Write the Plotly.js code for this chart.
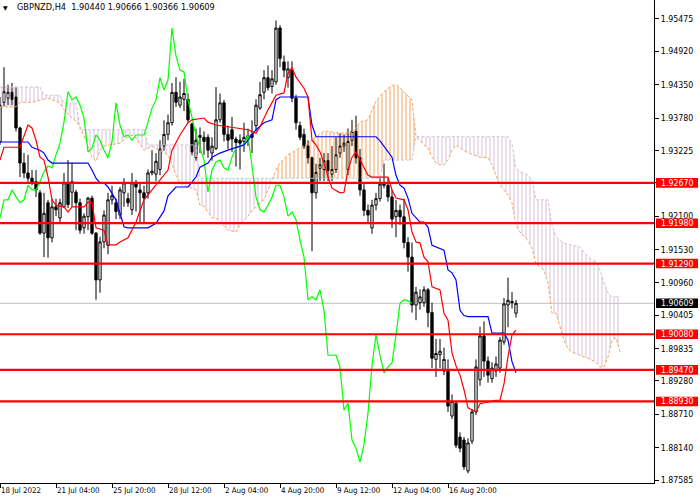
<!DOCTYPE html>
<html>
<head>
<meta charset="utf-8">
<script src="https://cdn.plot.ly/plotly-3.0.1.min.js"></script>
<style>html,body{margin:0;padding:0;background:#fff}#chart{width:700px;height:500px}</style>
</head>
<body>
<div id="chart"></div>
<script>
// ---------- DATA ----------
const symbol = "GBPNZD,H4";
const openP = [
1.9337,1.9405,1.9412,1.9422,1.9414,1.9361,1.9301,1.9284,1.9275,1.9269,
1.9250,1.9181,1.9233,1.9173,1.9226,1.9207,1.9226,1.9267,1.9251,1.9251,
1.9233,1.9190,1.9209,1.9241,1.9181,1.9101,1.9166,1.9160,1.9238,1.9233,
1.9212,1.9250,1.9240,1.9221,1.9267,1.9255,1.9250,1.9250,1.9284,1.9282,
1.9290,1.9330,1.9350,1.9370,1.9422,1.9400,1.9410,1.9410,1.9368,1.9310,
1.9345,1.9345,1.9345,1.9318,1.9326,1.9375,1.9404,1.9350,1.9358,1.9342,
1.9340,1.9338,1.9345,1.9350,1.9365,1.9395,1.9422,1.9447,1.9432,1.9440,
1.9532,1.9474,1.9447,1.9460,1.9412,1.9365,1.9350,1.9330,1.9310,1.9250,
1.9292,1.9290,1.9305,1.9282,1.9290,1.9318,1.9330,1.9290,1.9340,1.9355,
1.9310,1.9255,1.9220,1.9190,1.9229,1.9240,1.9265,1.9263,1.9243,1.9209,
1.9220,1.9209,1.9165,1.9140,1.9058,1.9062,1.9062,1.9084,1.9045,1.8965,
1.8973,1.8945,1.8947,1.8868,1.8890,1.8832,1.8827,1.8774,1.8825,1.8875,
1.8930,1.9005,1.8962,1.8932,1.8945,1.8950,1.8995,1.9058,1.9064,1.90440];
const highP = [
1.9414,1.9465,1.9435,1.9438,1.9431,1.9363,1.9318,1.9315,1.9289,1.9289,
1.9255,1.9250,1.9238,1.9240,1.9240,1.9240,1.9284,1.9306,1.9301,1.9255,
1.9240,1.9215,1.9243,1.9245,1.9183,1.9175,1.9220,1.9250,1.9262,1.9240,
1.9260,1.9275,1.9250,1.9284,1.9272,1.9267,1.9262,1.9290,1.9323,1.9318,
1.9340,1.9374,1.9384,1.9438,1.9448,1.9440,1.9445,1.9420,1.9370,1.9360,
1.9362,1.9355,1.9350,1.9345,1.9431,1.9420,1.9409,1.9365,1.9380,1.9346,
1.9350,1.9370,1.9360,1.9374,1.9410,1.9440,1.9460,1.9468,1.9460,1.9545,
1.9537,1.9485,1.9475,1.9475,1.9418,1.9372,1.9360,1.9340,1.9312,1.9300,
1.9310,1.9318,1.9318,1.9330,1.9345,1.9352,1.9350,1.9360,1.9375,1.9382,
1.9325,1.9265,1.9230,1.9238,1.9250,1.9275,1.9300,1.9275,1.9255,1.9238,
1.9230,1.9240,1.9174,1.9165,1.9089,1.9085,1.9090,1.9087,1.9062,1.9000,
1.9000,1.8985,1.8965,1.8905,1.8892,1.8840,1.8832,1.8830,1.8880,1.8965,
1.9021,1.9030,1.8970,1.8960,1.8970,1.9003,1.9070,1.9105,1.9080,1.90666];
const lowP = [
1.9332,1.9398,1.9400,1.9400,1.9355,1.9277,1.9275,1.9269,1.9263,1.9243,
1.9178,1.9140,1.9139,1.9165,1.9210,1.9200,1.9224,1.9224,1.9226,1.9186,
1.9180,1.9180,1.9186,1.9178,1.9067,1.9079,1.9155,1.9145,1.9230,1.9205,
1.9205,1.9226,1.9226,1.9212,1.9218,1.9198,1.9198,1.9240,1.9280,1.9270,
1.9280,1.9322,1.9340,1.9365,1.9397,1.9395,1.9390,1.9370,1.9314,1.9305,
1.9318,1.9315,1.9310,1.9305,1.9323,1.9370,1.9338,1.9325,1.9320,1.9295,
1.9290,1.9320,1.9330,1.9318,1.9355,1.9392,1.9410,1.9425,1.9420,1.9435,
1.9465,1.9448,1.9430,1.9405,1.9358,1.9340,1.9325,1.9300,1.9150,1.9240,
1.9270,1.9270,1.9270,1.9270,1.9284,1.9310,1.9320,1.9280,1.9330,1.9300,
1.9245,1.9210,1.9200,1.9180,1.9220,1.9235,1.9258,1.9235,1.9190,1.9174,
1.9195,1.9155,1.9115,1.9045,1.9032,1.9050,1.9055,1.9020,1.8950,1.8935,
1.8950,1.8938,1.8875,1.8863,1.8813,1.8806,1.8776,1.8770,1.8820,1.8870,
1.8920,1.8935,1.8925,1.8925,1.8935,1.8942,1.8990,1.9020,1.9052,1.90366];
const closeP = [
1.9400,1.9423,1.9422,1.9410,1.9361,1.9301,1.9284,1.9275,1.9269,1.9255,
1.9181,1.9215,1.9173,1.9226,1.9221,1.9233,1.9267,1.9230,1.9269,1.9233,
1.9186,1.9210,1.9241,1.9181,1.9101,1.9166,1.9212,1.9238,1.9245,1.9218,
1.9255,1.9267,1.9233,1.9267,1.9260,1.9250,1.9241,1.9284,1.9287,1.9304,
1.9325,1.9350,1.9370,1.9422,1.9405,1.9414,1.9420,1.9375,1.9320,1.9340,
1.9348,1.9338,1.9323,1.9330,1.9375,1.9404,1.9350,1.9340,1.9342,1.9336,
1.9335,1.9345,1.9348,1.9345,1.9400,1.9418,1.9447,1.9430,1.9445,1.9532,
1.9480,1.9460,1.9462,1.9412,1.9370,1.9345,1.9330,1.9310,1.9250,1.9285,
1.9298,1.9305,1.9288,1.9290,1.9315,1.9330,1.9335,1.9338,1.9355,1.9310,
1.9255,1.9220,1.9212,1.9229,1.9240,1.9265,1.9263,1.9243,1.9205,1.9220,
1.9209,1.9165,1.9140,1.9058,1.9080,1.9072,1.9084,1.9045,1.8967,1.8975,
1.8979,1.8965,1.8885,1.8893,1.8818,1.8813,1.8781,1.8822,1.8875,1.8952,
1.9005,1.8962,1.8938,1.8950,1.8957,1.8998,1.9060,1.9066,1.9062,1.90609];

// Ichimoku lines, read at the bars where they turn (bar number, price)
const tenkanBar = [0,1,5,7,8,9,10,11,12,13,14,16,17,18,21,22,23,24,26,27,29,30,32,33,34,36,38,40,42,43,45,47,48,51,52,54,57,61,62,64,65,67,69,71,72,73,74,76,77,78,79,80,81,82,83,85,86,87,88,89,90,91,92,93,97,98,99,101,102,103,104,105,106,107,108,110,111,112,113,114,115,116,117,119,120,124,125,126,127,128,129];
const tenkanVal = [1.9306,1.9328,1.9328,1.9366,1.9361,1.9340,1.9311,1.9306,1.9277,1.9238,1.9229,1.9226,1.9217,1.9226,1.9226,1.9234,1.9233,1.9190,1.9186,1.9161,1.9161,1.9166,1.9173,1.9186,1.9200,1.9238,1.9255,1.9272,1.9289,1.9323,1.9349,1.9370,1.9375,1.9378,1.9371,1.9366,1.9363,1.9359,1.9358,1.9352,1.9363,1.9392,1.9417,1.9421,1.9455,1.9464,1.9448,1.9429,1.9414,1.9340,1.9332,1.9320,1.9301,1.9277,1.9258,1.9250,1.9251,1.9289,1.9311,1.9320,1.9306,1.9294,1.9280,1.9277,1.9277,1.9255,1.9241,1.9238,1.9221,1.9183,1.9166,1.9164,1.9140,1.9132,1.9089,1.9084,1.9044,1.9032,1.8976,1.8954,1.8938,1.8913,1.8882,1.8875,1.8889,1.8895,1.8895,1.8923,1.8970,1.9007,1.9015];
const kijunBar = [0,7,8,9,10,11,12,13,22,23,24,25,26,27,28,29,30,31,32,37,39,41,42,44,47,49,50,52,53,55,57,59,61,62,63,64,66,68,69,70,77,78,79,94,95,96,97,98,99,100,101,102,103,105,106,107,108,111,112,113,114,115,116,117,122,123,126,127,128,129];
const kijunVal = [1.9337,1.9337,1.9328,1.9325,1.9323,1.9318,1.9306,1.9301,1.9301,1.9289,1.9275,1.9267,1.9267,1.9260,1.9250,1.9238,1.9215,1.9192,1.9190,1.9190,1.9198,1.9219,1.9245,1.9260,1.9260,1.9277,1.9294,1.9301,1.9311,1.9318,1.9323,1.9328,1.9332,1.9340,1.9349,1.9358,1.9370,1.9375,1.9409,1.9414,1.9414,1.9366,1.9346,1.9346,1.9339,1.9330,1.9322,1.9311,1.9280,1.9263,1.9258,1.9241,1.9215,1.9200,1.9200,1.9191,1.9160,1.9152,1.9118,1.9113,1.9101,1.9049,1.9040,1.9038,1.9038,1.9010,1.9010,1.8998,1.8961,1.8942];
const chikouVal = [
1.9207,1.9238,1.9238,1.9255,1.9243,1.9233,1.9238,1.9263,1.9255,1.9255,
1.9269,1.9286,1.9296,1.9293,1.9315,1.9335,1.9371,1.9423,1.9409,1.9414,
1.9400,1.9378,1.9320,1.9327,1.9349,1.9340,1.9323,1.9310,1.9337,1.9404,
1.9366,1.9346,1.9349,1.9340,1.9349,1.9349,1.9349,1.9371,1.9395,1.9409,
1.9447,1.9426,1.9443,1.9532,1.9484,1.9460,1.9457,1.9409,1.9380,1.9349,
1.9327,1.9306,1.9251,1.9289,1.9303,1.9306,1.9293,1.9289,1.9311,1.9327,
1.9330,1.9332,1.9349,1.9298,1.9243,1.9221,1.9217,1.9229,1.9243,1.9263,
1.9263,1.9243,1.9210,1.9217,1.9204,1.9169,1.9140,1.9067,1.9072,1.9067,
1.9084,1.9049,1.8972,1.8972,1.8972,1.8952,1.8878,1.8890,1.8827,1.8813,
1.8789,1.8819,1.8873,1.8955,1.9007,1.8972,1.8942,1.8952,1.8959,1.9007,
1.9061,1.9067,1.9065,1.9061];
const spanABar = [0,4,5,8,12,14,15,16,17,18,19,20,21,22,23,24,25,26,28,30,32,33,34,35,36,38,40,42,43,44,45,46,48,49,50,51,52,53,54,56,57,59,60,62,63,65,66,67,68,69,70,72,75,77,79,81,83,85,88,89,90,92,93,94,96,97,98,99,100,101,102,103,104,105,106,107,108,109,110,111,112,113,114,115,116,118,120,122,123,124,125,126,127,128,129,130,131,132,133,134,135,136,137,138,139,140,141,142,143,145,147,149,150,151,152,153,154,155];
const spanAVal = [1.9397,1.9397,1.9405,1.9405,1.9412,1.9407,1.9404,1.9392,1.9385,1.9378,1.9373,1.9363,1.9347,1.9330,1.9311,1.9304,1.9323,1.9330,1.9332,1.9335,1.9346,1.9349,1.9344,1.9334,1.9323,1.9330,1.9323,1.9315,1.9298,1.9280,1.9267,1.9262,1.9258,1.9255,1.9229,1.9227,1.9217,1.9207,1.9207,1.9193,1.9186,1.9183,1.9195,1.9210,1.9219,1.9233,1.9238,1.9255,1.9272,1.9289,1.9301,1.9315,1.9327,1.9335,1.9346,1.9356,1.9354,1.9352,1.9354,1.9361,1.9371,1.9375,1.9392,1.9407,1.9423,1.9429,1.9433,1.9436,1.9429,1.9423,1.9416,1.9409,1.9347,1.9339,1.9332,1.9327,1.9311,1.9301,1.9298,1.9298,1.9306,1.9323,1.9332,1.9327,1.9322,1.9316,1.9311,1.9310,1.9298,1.9280,1.9263,1.9255,1.9246,1.9233,1.9195,1.9183,1.9176,1.9168,1.9156,1.9128,1.9123,1.9118,1.9096,1.9044,1.9044,1.9020,1.8998,1.8983,1.8978,1.8972,1.8967,1.8960,1.8952,1.8952,1.8969,1.8998,1.9002,1.8978];
const spanBBar = [0,10,11,15,16,19,20,36,37,49,50,69,95,96,103,104,127,128,129,130,132,133,134,137,138,139,141,145,146,147,149,150,151,152,153,155];
const spanBVal = [1.9431,1.9431,1.9417,1.9417,1.9404,1.9404,1.9358,1.9358,1.9332,1.9332,1.9275,1.9275,1.9275,1.9306,1.9306,1.9346,1.9346,1.9334,1.9292,1.9286,1.9280,1.9272,1.9238,1.9238,1.9195,1.9175,1.9164,1.9157,1.9149,1.9140,1.9132,1.9118,1.9096,1.9079,1.9072,1.9072];
// cloud sections: bars where the cloud changes colour
const cloudFrom = [0, 69, 104];
const cloudTo = [69, 104, 155];
const cloudBull = [false, true, false];

const levels = [1.92670, 1.91980, 1.91290, 1.90080, 1.89470, 1.88930];
const priceTicks = [1.95475,1.94920,1.94350,1.93780,1.93225,1.92670,1.92100,1.91530,1.90960,1.90405,1.89835,1.89280,1.88710,1.88140,1.87585];
const timeTickBars = [0,14,28,42,56,70,84,98,112];
const timeTickText = ["18 Jul 2022","21 Jul 04:00","25 Jul 20:00","28 Jul 12:00","2 Aug 04:00","4 Aug 20:00","9 Aug 12:00","12 Aug 04:00","16 Aug 20:00"];

// ---------- STYLE ----------
const ctx = document.createElement('canvas').getContext('2d');
function textW(font, t) { ctx.font = font; return ctx.measureText(t).width; }
function hasFont(name) {
  const t = '1.95475 Jul Aug GBPNZD';
  return Math.abs(textW('20px "' + name + '", monospace', t) - textW('20px monospace', t)) > 0.5;
}
const family = ['Liberation Sans Narrow', 'Arial Narrow', 'DejaVu Sans Condensed', 'Liberation Sans'].find(hasFont) || 'Liberation Sans';
const FONT = '"' + family + '","Liberation Sans",Arial,sans-serif';
function fitSize(t, target, maxSize) { return Math.min(maxSize, 20 * target / textW('20px ' + FONT, t)); }
const ySize = fitSize('1.95475', 32.5, 11);
const xSize = fitSize('21 Jul 04:00', 42.5, 10.5);

const W = 700, H = 500, ML = 0, MR = 46, MT = 0, MB = 17;
const plotW = W - ML - MR, plotH = H - MT - MB;
const yRange = [1.87534, 1.95800];
const xRange = [0, 163.5];
const pxPrice = (yRange[1] - yRange[0]) / plotH;

const bars = openP.map((_, i) => i);
const last = bars.length - 1;
const titleText = symbol + '\u00a0\u00a0' + [openP[last], highP[last], lowP[last], closeP[last]].map(v => v.toFixed(5)).join(' ');
const tSize = fitSize(titleText, 198, 11.5);

function part(bx, vals, lo, hi) {
  const x = [], y = [];
  bx.forEach((b, j) => { if (b >= lo && b <= hi) { x.push(b); y.push(vals[j]); } });
  return {x, y};
}

const traces = [];
traces.push({
  type: 'candlestick', x: bars, open: openP, high: highP, low: lowP, close: closeP,
  increasing: {line: {color: '#000', width: 1}, fillcolor: '#fff'},
  decreasing: {line: {color: '#000', width: 1}, fillcolor: '#000'},
  whiskerwidth: 0, hoverinfo: 'skip', showlegend: false
});

cloudFrom.forEach((lo, k) => {
  const hi = cloudTo[k];
  const b = part(spanBBar, spanBVal, lo, hi);
  const a = part(spanABar, spanAVal, lo, hi);
  const col = cloudBull[k] ? '#F4A460' : '#D8BFD8';
  traces.push({type: 'scatter', mode: 'lines', x: b.x, y: b.y, line: {width: 0}, hoverinfo: 'skip', showlegend: false});
  traces.push({type: 'scatter', mode: 'lines', x: a.x, y: a.y, line: {width: 0}, fill: 'tonexty',
    fillcolor: 'rgba(0,0,0,0)',
    fillpattern: {shape: '|', size: 4, solidity: 0.25, fgcolor: col, bgcolor: 'rgba(0,0,0,0)', fgopacity: 1},
    hoverinfo: 'skip', showlegend: false});
});

traces.push({type: 'scatter', mode: 'lines', x: spanABar, y: spanAVal, line: {color: '#F4A460', width: 1, dash: '3px,2px'}, hoverinfo: 'skip', showlegend: false});
traces.push({type: 'scatter', mode: 'lines', x: spanBBar, y: spanBVal, line: {color: '#D8BFD8', width: 1, dash: '3px,2px'}, hoverinfo: 'skip', showlegend: false});
traces.push({type: 'scatter', mode: 'lines', x: chikouVal.map((_, i) => i), y: chikouVal, line: {color: '#00FF00', width: 1.2}, hoverinfo: 'skip', showlegend: false});
traces.push({type: 'scatter', mode: 'lines', x: kijunBar, y: kijunVal, line: {color: '#0000FF', width: 1.2}, hoverinfo: 'skip', showlegend: false});
traces.push({type: 'scatter', mode: 'lines', x: tenkanBar, y: tenkanVal, line: {color: '#FF0000', width: 1.2}, hoverinfo: 'skip', showlegend: false});

const shapes = [];
const annotations = [];
const boxX0 = 1 + 2 / plotW, boxX1 = 1 + 44 / plotW, boxXc = 1 + 23 / plotW;
const boxHalf = 4.8 * pxPrice;

// current price line
const cur = closeP[last];
shapes.push({type: 'line', xref: 'paper', x0: 0, x1: 1, yref: 'y', y0: cur, y1: cur, line: {color: '#C0C0C0', width: 1}, layer: 'below'});
shapes.push({type: 'rect', xref: 'paper', x0: boxX0, x1: boxX1, yref: 'y', y0: cur - boxHalf, y1: cur + boxHalf, fillcolor: '#000', line: {width: 0}, layer: 'above'});
annotations.push({xref: 'paper', x: boxXc, yref: 'y', y: cur, text: cur.toFixed(5), showarrow: false, xanchor: 'center', yanchor: 'middle', font: {family: FONT, size: ySize, color: '#fff'}});

levels.forEach(v => {
  shapes.push({type: 'line', xref: 'paper', x0: 0, x1: 1, yref: 'y', y0: v, y1: v, line: {color: '#FF0000', width: 2.2}, layer: 'above'});
  shapes.push({type: 'rect', xref: 'paper', x0: boxX0, x1: boxX1, yref: 'y', y0: v - boxHalf, y1: v + boxHalf, fillcolor: '#FF0000', line: {width: 0}, layer: 'above'});
  annotations.push({xref: 'paper', x: boxXc, yref: 'y', y: v, text: v.toFixed(5), showarrow: false, xanchor: 'center', yanchor: 'middle', font: {family: FONT, size: ySize, color: '#fff'}});
});

// title
annotations.push({xref: 'paper', x: 15 / plotW, yref: 'paper', y: 1, xanchor: 'left', yanchor: 'top', yshift: 0, text: titleText, showarrow: false, font: {family: FONT, size: tSize, color: '#000'}});
annotations.push({xref: 'paper', x: 5.5 / plotW, yref: 'paper', y: 1, xanchor: 'center', yanchor: 'top', yshift: -2, text: '\u25BC', showarrow: false, font: {family: 'DejaVu Sans', size: 6, color: '#000'}});

const layout = {
  width: W, height: H,
  margin: {l: ML, r: MR, t: MT, b: MB, pad: 0},
  paper_bgcolor: '#fff', plot_bgcolor: '#fff',
  showlegend: false, boxgap: 0.18,
  xaxis: {range: xRange, showgrid: false, zeroline: false, showline: true, linecolor: '#000', linewidth: 1,
    ticks: 'outside', ticklen: 4, tickcolor: '#000', tickwidth: 1, tickangle: 0,
    tickvals: timeTickBars, ticktext: timeTickText, ticklabelposition: 'outside right',
    tickfont: {family: FONT, size: xSize, color: '#000'}, rangeslider: {visible: false}, fixedrange: true, automargin: false},
  yaxis: {side: 'right', range: yRange, showgrid: false, zeroline: false, showline: true, linecolor: '#000', linewidth: 1,
    ticks: 'outside', ticklen: 4, tickcolor: '#000', tickwidth: 1,
    tickvals: priceTicks, ticktext: priceTicks.map(v => v.toFixed(5)),
    tickfont: {family: FONT, size: ySize, color: '#000'}, fixedrange: true, automargin: false},
  shapes: shapes,
  annotations: annotations
};

Plotly.newPlot('chart', traces, layout, {staticPlot: true, displayModeBar: false});
</script>
</body>
</html>
